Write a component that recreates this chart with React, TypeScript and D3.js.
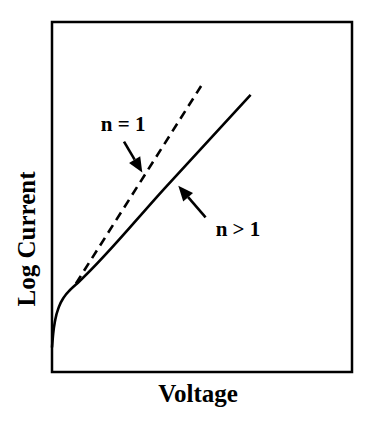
import React, { useEffect, useRef } from "react";
import * as d3 from "d3";

type Pt = [number, number];

// solid diode curve (n > 1), voltage vs log current, arbitrary units
const solidCurve: Pt[] = [
  [0, 7], [0.4, 11], [1.1, 15], [2.3, 18.6], [4, 21.4], [6.2, 23.6],
  [9, 25.8], [38, 52.9], [66.2, 79.2],
];
// ideal curve (n = 1)
const dashedCurve: Pt[] = [[8, 25.3], [49.7, 81.7]];

const labels = ["n = 1", "n > 1"];
const labelPos: Pt[] = [[23.7, 68.9], [62, 38.9]];
const arrowTails: Pt[] = [[24, 65.8], [51.2, 44.2]];
const arrowTips: Pt[] = [[30.1, 57], [42.1, 53.2]];

const xTitle = "Voltage";
const yTitle = "Log Current";

const App: React.FC = () => {
  const svgRef = useRef<SVGSVGElement>(null);
  const width = 373;
  const height = 423;
  const margin = { top: 22, right: 21, bottom: 51, left: 52 };
  const font = "'Liberation Serif', 'Times New Roman', serif";

  useEffect(() => {
    const svg = d3.select(svgRef.current);
    svg.selectAll("*").remove();

    const x = d3.scaleLinear().domain([0, 100]).range([margin.left, width - margin.right]);
    const y = d3.scaleLinear().domain([0, 100]).range([height - margin.bottom, margin.top]);

    svg.append("rect")
      .attr("x", x(0))
      .attr("y", y(100))
      .attr("width", x(100) - x(0))
      .attr("height", y(0) - y(100))
      .attr("fill", "none")
      .attr("stroke", "#000")
      .attr("stroke-width", 2.5);

    const line = d3.line<Pt>()
      .x((d) => x(d[0]))
      .y((d) => y(d[1]))
      .curve(d3.curveMonotoneX);

    svg.append("path")
      .attr("d", line(dashedCurve))
      .attr("fill", "none")
      .attr("stroke", "#000")
      .attr("stroke-width", 2.6)
      .attr("stroke-dasharray", "9,6");

    svg.append("path")
      .attr("d", line(solidCurve))
      .attr("fill", "none")
      .attr("stroke", "#000")
      .attr("stroke-width", 2.6);

    // arrows
    arrowTails.forEach((t, i) => {
      const tip = arrowTips[i];
      const x1 = x(t[0]), y1 = y(t[1]);
      const x2 = x(tip[0]), y2 = y(tip[1]);
      const ang = Math.atan2(y2 - y1, x2 - x1);
      const headLen = 15;
      const headW = 6.5;
      const bx = x2 - headLen * Math.cos(ang);
      const by = y2 - headLen * Math.sin(ang);
      svg.append("line")
        .attr("x1", x1).attr("y1", y1)
        .attr("x2", bx).attr("y2", by)
        .attr("stroke", "#000")
        .attr("stroke-width", 2.6);
      const px = -Math.sin(ang), py = Math.cos(ang);
      svg.append("polygon")
        .attr("points", [
          [x2, y2],
          [bx + px * headW, by + py * headW],
          [bx - px * headW, by - py * headW],
        ].map((p) => p.join(",")).join(" "))
        .attr("fill", "#000");
    });

    svg.selectAll("text.lbl")
      .data(labels)
      .enter()
      .append("text")
      .attr("class", "lbl")
      .attr("x", (_, i) => x(labelPos[i][0]))
      .attr("y", (_, i) => y(labelPos[i][1]))
      .attr("text-anchor", "middle")
      .attr("font-family", font)
      .attr("font-weight", "bold")
      .attr("font-size", 21)
      .attr("xml:space", "preserve")
      .text((d) => d);

    svg.append("text")
      .attr("x", x(50) - 4)
      .attr("y", 402)
      .attr("text-anchor", "middle")
      .attr("font-family", font)
      .attr("font-weight", "bold")
      .attr("font-size", 25)
      .text(xTitle);

    svg.append("text")
      .attr("transform", `translate(35,${y(38)}) rotate(-90)`)
      .attr("text-anchor", "middle")
      .attr("font-family", font)
      .attr("font-weight", "bold")
      .attr("font-size", 25)
      .text(yTitle);
  }, []);

  return (
    <svg
      ref={svgRef}
      width={width}
      height={height}
      style={{ position: "absolute", left: 0, top: 0, background: "#fff" }}
    />
  );
};

export default App;
